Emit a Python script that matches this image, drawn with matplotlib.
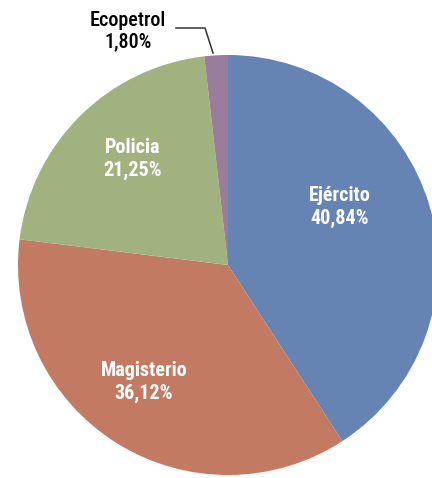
import matplotlib
matplotlib.use('Agg')
import matplotlib.pyplot as plt

labels = ['Ejército', 'Magisterio', 'Policia', 'Ecopetrol']
values = [40.84, 36.12, 21.25, 1.80]
colors = ['#6583b3', '#c27a63', '#a2b27f', '#9a7c9c']

font = ['Roboto Condensed', 'PT Sans Narrow', 'DejaVu Sans']

W, H = 432, 478
fig = plt.figure(figsize=(W / 100, H / 100), dpi=100)
ax = fig.add_axes([0, 0, 1, 1])

cx, cy, r = 228, H - 265, 210
ax.pie(values, colors=colors, startangle=90, counterclock=False,
       center=(cx, cy), radius=r, frame=True,
       wedgeprops={'linewidth': 0})
ax.set_xlim(0, W)
ax.set_ylim(0, H)
ax.axis('off')


def pct(v):
    return '{:.2f}%'.format(v).replace('.', ',')


# label spots (pixel coords from the top)
spots = {'Ejército': (340, 207), 'Magisterio': (144, 382), 'Policia': (133, 159)}
for lab, v in zip(labels, values):
    if lab in spots:
        x, y = spots[lab]
        ax.text(x, H - y, lab + '\n' + pct(v), ha='center', va='center',
                color='white', fontsize=14.5, fontweight='bold', family=font,
                linespacing=1.2)

ax.text(128, H - 31, labels[3] + '\n' + pct(values[3]), ha='center', va='center',
        color='black', fontsize=14.5, fontweight='medium', family=font,
        linespacing=1.15)
ax.plot([176, 205, 213], [H - 28, H - 28, H - 53], color='#333333', lw=1.1)

fig.savefig('out.png', dpi=100)
